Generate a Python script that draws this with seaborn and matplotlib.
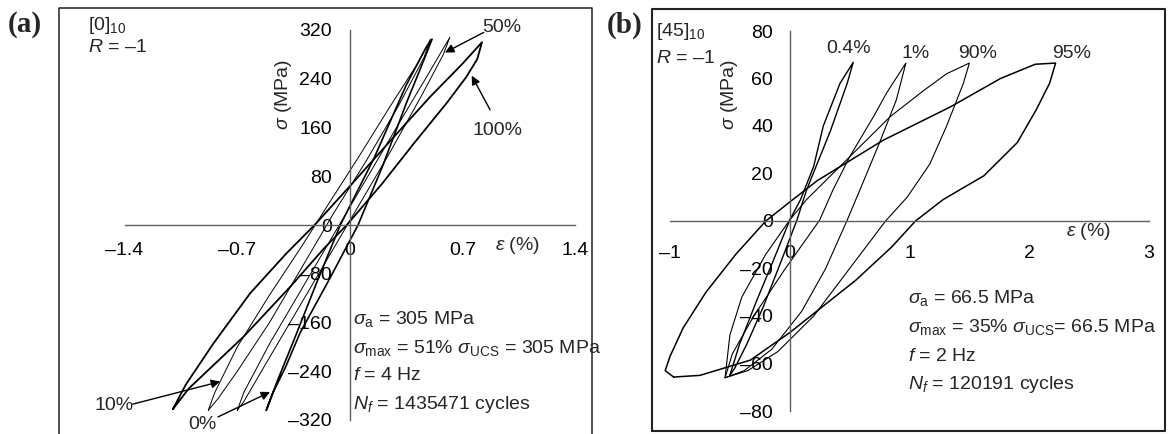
import matplotlib
matplotlib.use("Agg")
import matplotlib.pyplot as plt
from matplotlib.transforms import Affine2D
from matplotlib.lines import Line2D
import seaborn as sns

# ---------------- data ----------------
# Panel (a): [0]10 laminate, hysteresis loops (strain %, stress MPa)
a_0_strain = [-0.52, -0.48, -0.40, -0.31, -0.12, 0.05, 0.20, 0.35, 0.45, 0.51,
              0.47, 0.35, 0.15, -0.06, -0.20, -0.35, -0.45, -0.52]
a_0_stress = [-304, -276, -233, -177, -85, 0, 95, 200, 265, 305,
              290, 230, 110, 0, -90, -190, -255, -304]
a_10_strain = [-0.88, -0.84, -0.70, -0.50, -0.30, -0.12, 0.05, 0.25, 0.42, 0.50,
               0.46, 0.30, 0.10, -0.10, -0.30, -0.50, -0.70, -0.82, -0.88]
a_10_stress = [-304, -275, -200, -115, -35, 40, 110, 195, 265, 305,
               275, 195, 105, 20, -70, -160, -240, -285, -304]
a_50_strain = [-0.70, -0.66, -0.50, -0.30, -0.10, 0.10, 0.30, 0.48, 0.62,
               0.58, 0.45, 0.25, 0.05, -0.15, -0.35, -0.55, -0.66, -0.70]
a_50_stress = [-304, -275, -195, -105, -15, 75, 165, 245, 308,
               280, 215, 120, 30, -60, -150, -240, -290, -304]
a_100_strain = [-1.10, -1.02, -0.85, -0.62, -0.40, -0.22, 0.00, 0.25, 0.50, 0.70, 0.82,
                0.79, 0.72, 0.60, 0.40, 0.20, -0.02, -0.16, -0.37, -0.66, -1.00, -1.10]
a_100_stress = [-302, -262, -195, -112, -48, 0, 64, 138, 211, 265, 300,
                272, 242, 200, 135, 68, 0, -38, -101, -183, -268, -302]

# Panel (b): [45]10 laminate
b_0p4_strain = [-0.50, -0.42, -0.28, -0.14, 0.00, 0.09, 0.20, 0.28, 0.42, 0.53,
                0.48, 0.34, 0.14, 0.06, -0.08, -0.22, -0.36, -0.46, -0.50]
b_0p4_stress = [-65, -52, -34, -17, 0.4, 9, 23, 40, 58, 66.8,
                58, 38, 13, 0.4, -18, -36, -52, -62, -65]
b_1_strain = [-0.54, -0.48, -0.30, -0.05, 0.25, 0.36, 0.50, 0.70, 0.81, 0.97,
              0.89, 0.75, 0.61, 0.48, 0.30, 0.10, -0.15, -0.38, -0.54]
b_1_stress = [-66, -56, -40, -21, 0.4, 13, 27, 44, 54, 66.5,
              51, 33, 16, 0.4, -20, -38, -54, -63, -66]
b_90_strain = [-0.54, -0.50, -0.40, -0.20, 0.00, 0.14, 0.42, 0.84, 1.12, 1.31, 1.50,
               1.45, 1.31, 1.17, 0.98, 0.80, 0.50, 0.20, -0.10, -0.35, -0.54]
b_90_stress = [-66, -48, -32, -14, 0.4, 9, 23, 44, 55, 62, 66.5,
               58, 40, 24, 10, 0, -20, -40, -55, -63, -66]
b_95_strain = [-0.97, -0.75, -0.33, 0.00, 0.20, 0.55, 0.85, 1.05, 1.28, 1.62, 1.90, 2.06, 2.17, 2.22,
               2.05, 1.76, 1.34, 0.78, 0.23, 0.00, -0.20, -0.45, -0.70, -0.89, -1.00, -1.04, -0.97]
b_95_stress = [-65.7, -65, -58.6, -47, -39, -25, -11, 0, 9, 19, 33, 47, 58, 66.5,
               66, 60, 48, 34, 17, 8, 0, -14, -30, -45, -57, -63, -65.7]

a_xticks = [-1.4, -0.7, 0, 0.7, 1.4]
a_yticks = [-320, -240, -160, -80, 0, 80, 160, 240, 320]
b_xticks = [-1, 0, 1, 2, 3]
b_yticks = [-80, -60, -40, -20, 0, 20, 40, 60, 80]

a_info = ["$\\sigma_{\\mathrm{a}}$ = 305 MPa",
          "$\\sigma_{\\mathrm{max}}$ = 51% $\\sigma_{\\mathrm{UCS}}$ = 305 MPa",
          "$f$ = 4 Hz",
          "$N_f$ = 1435471 cycles"]
b_info = ["$\\sigma_{\\mathrm{a}}$ = 66.5 MPa",
          "$\\sigma_{\\mathrm{max}}$ = 35% $\\sigma_{\\mathrm{UCS}}$= 66.5 MPa",
          "$f$ = 2 Hz",
          "$N_f$ = 120191 cycles"]
r_text = "$R$ = \u20131"

# ---------------- style ----------------
sns.set_style("white")
plt.rcParams["font.family"] = ["Liberation Sans", "DejaVu Sans"]
plt.rcParams["mathtext.fontset"] = "custom"
plt.rcParams["mathtext.rm"] = "Liberation Sans"
plt.rcParams["mathtext.it"] = "Liberation Sans:italic"
plt.rcParams["mathtext.bf"] = "Liberation Sans:bold"

AXIS_GRAY = "#5e5e5e"
FS = 14

W, H = 1169, 434
fig = plt.figure(figsize=(W / 100, H / 100), dpi=100)
PX = Affine2D().scale(1 / W, -1 / H).translate(0, 1) + fig.transFigure


def box(x0, x1, y_top, y_bot):
    return [x0 / W, 1 - y_bot / H, (x1 - x0) / W, (y_bot - y_top) / H]


def tick_text(v):
    s = "0" if v == 0 else f"{v:g}"
    return s.replace("-", "\u2013")


def style_axes(ax, xticks, yticks, xlim, ylim, xpad, ypad):
    ax.set_xlim(*xlim)
    ax.set_ylim(*ylim)
    for s in ("top", "right"):
        ax.spines[s].set_visible(False)
    for s in ("left", "bottom"):
        ax.spines[s].set_position(("data", 0))
        ax.spines[s].set_color(AXIS_GRAY)
        ax.spines[s].set_linewidth(1.0)
    ax.patch.set_visible(False)
    ax.set_xticks(xticks, [tick_text(v) for v in xticks])
    ax.set_yticks(yticks, [tick_text(v) for v in yticks])
    ax.tick_params(axis="x", direction="out", length=5, width=1, color=AXIS_GRAY,
                   pad=xpad, labelsize=FS, labelcolor="black")
    ax.tick_params(axis="y", direction="out", length=5, width=1, color=AXIS_GRAY,
                   pad=ypad, labelsize=FS, labelcolor="black")
    ax.set_xlabel("")
    ax.set_ylabel("")
    ax.grid(False)


def loop(ax, xs, ys, lw):
    sns.lineplot(x=xs, y=ys, ax=ax, sort=False, estimator=None, color="black",
                 lw=lw, legend=False)
    ax.lines[-1].set_clip_on(False)


def arrow(ax, start, end):
    ax.annotate("", xy=end, xytext=start, annotation_clip=False,
                arrowprops=dict(arrowstyle="-|>", color="black", lw=1.0,
                                mutation_scale=13, shrinkA=0, shrinkB=0))


def label(x, y, s, **kw):
    opts = dict(transform=PX, ha="left", va="center", fontsize=FS)
    opts.update(kw)
    fig.text(x, y, s, **opts)


# ---------------- panel (a) ----------------
ax_a = fig.add_axes(box(124.6, 575.4, 30, 420))
loop(ax_a, a_10_strain, a_10_stress, 0.7)
loop(ax_a, a_50_strain, a_50_stress, 0.7)
loop(ax_a, a_0_strain, a_0_stress, 1.2)
loop(ax_a, a_100_strain, a_100_stress, 1.3)
style_axes(ax_a, a_xticks, a_yticks, (-1.4, 1.4), (-320, 320), xpad=7.5, ypad=8)

arrow(ax_a, (0.83, 316), (0.59, 283))
arrow(ax_a, (0.87, 189), (0.756, 245))
arrow(ax_a, (-1.35, -294), (-0.807, -257))
arrow(ax_a, (-0.82, -315), (-0.497, -274))

label(502, 27.5, "50%", ha="center")
label(497, 130.5, "100%", ha="center")
label(114, 405.5, "10%", ha="center")
label(202.5, 424.5, "0%", ha="center")

label(283, 94, "$\\sigma$ (MPa)", rotation=90, ha="center")
label(518, 245, "$\\varepsilon$ (%)", ha="center")
label(88, 26, "[0]$_{\\mathrm{10}}$")
label(88, 48, r_text)
for i, s in enumerate(a_info):
    label(353, 319 + i * 28.5, s)

# ---------------- panel (b) ----------------
ax_b = fig.add_axes(box(670, 1149, 31, 411))
loop(ax_b, b_0p4_strain, b_0p4_stress, 1.0)
loop(ax_b, b_1_strain, b_1_stress, 0.8)
loop(ax_b, b_90_strain, b_90_stress, 0.8)
loop(ax_b, b_95_strain, b_95_stress, 1.1)
style_axes(ax_b, b_xticks, b_yticks, (-1, 3), (-80, 80), xpad=12.5, ypad=7)

label(849, 48.5, "0.4%", ha="center")
label(916, 53.5, "1%", ha="center")
label(978, 53.5, "90%", ha="center")
label(1072, 53.5, "95%", ha="center")

label(730, 94.5, "$\\sigma$ (MPa)", rotation=90, ha="center")
label(1089, 232, "$\\varepsilon$ (%)", ha="center")
label(656, 31, "[45]$_{\\mathrm{10}}$")
label(656, 58.5, r_text)
for i, s in enumerate(b_info):
    label(908, 298.5 + i * 28.8, s)

# ---------------- panel frames and letters ----------------
fig.add_artist(Line2D([59, 59, 592, 592], [440, 8, 8, 440], transform=PX,
                      color="#222222", lw=1.1))
fig.add_artist(Line2D([652, 652, 1165, 1165, 652], [431, 9, 9, 431, 431], transform=PX,
                      color="#222222", lw=1.5))
label(8, 24, "(a)", fontsize=21, fontweight="bold", family="Liberation Serif")
label(607, 25, "(b)", fontsize=21, fontweight="bold", family="Liberation Serif")

fig.savefig("out.png", dpi=100)
